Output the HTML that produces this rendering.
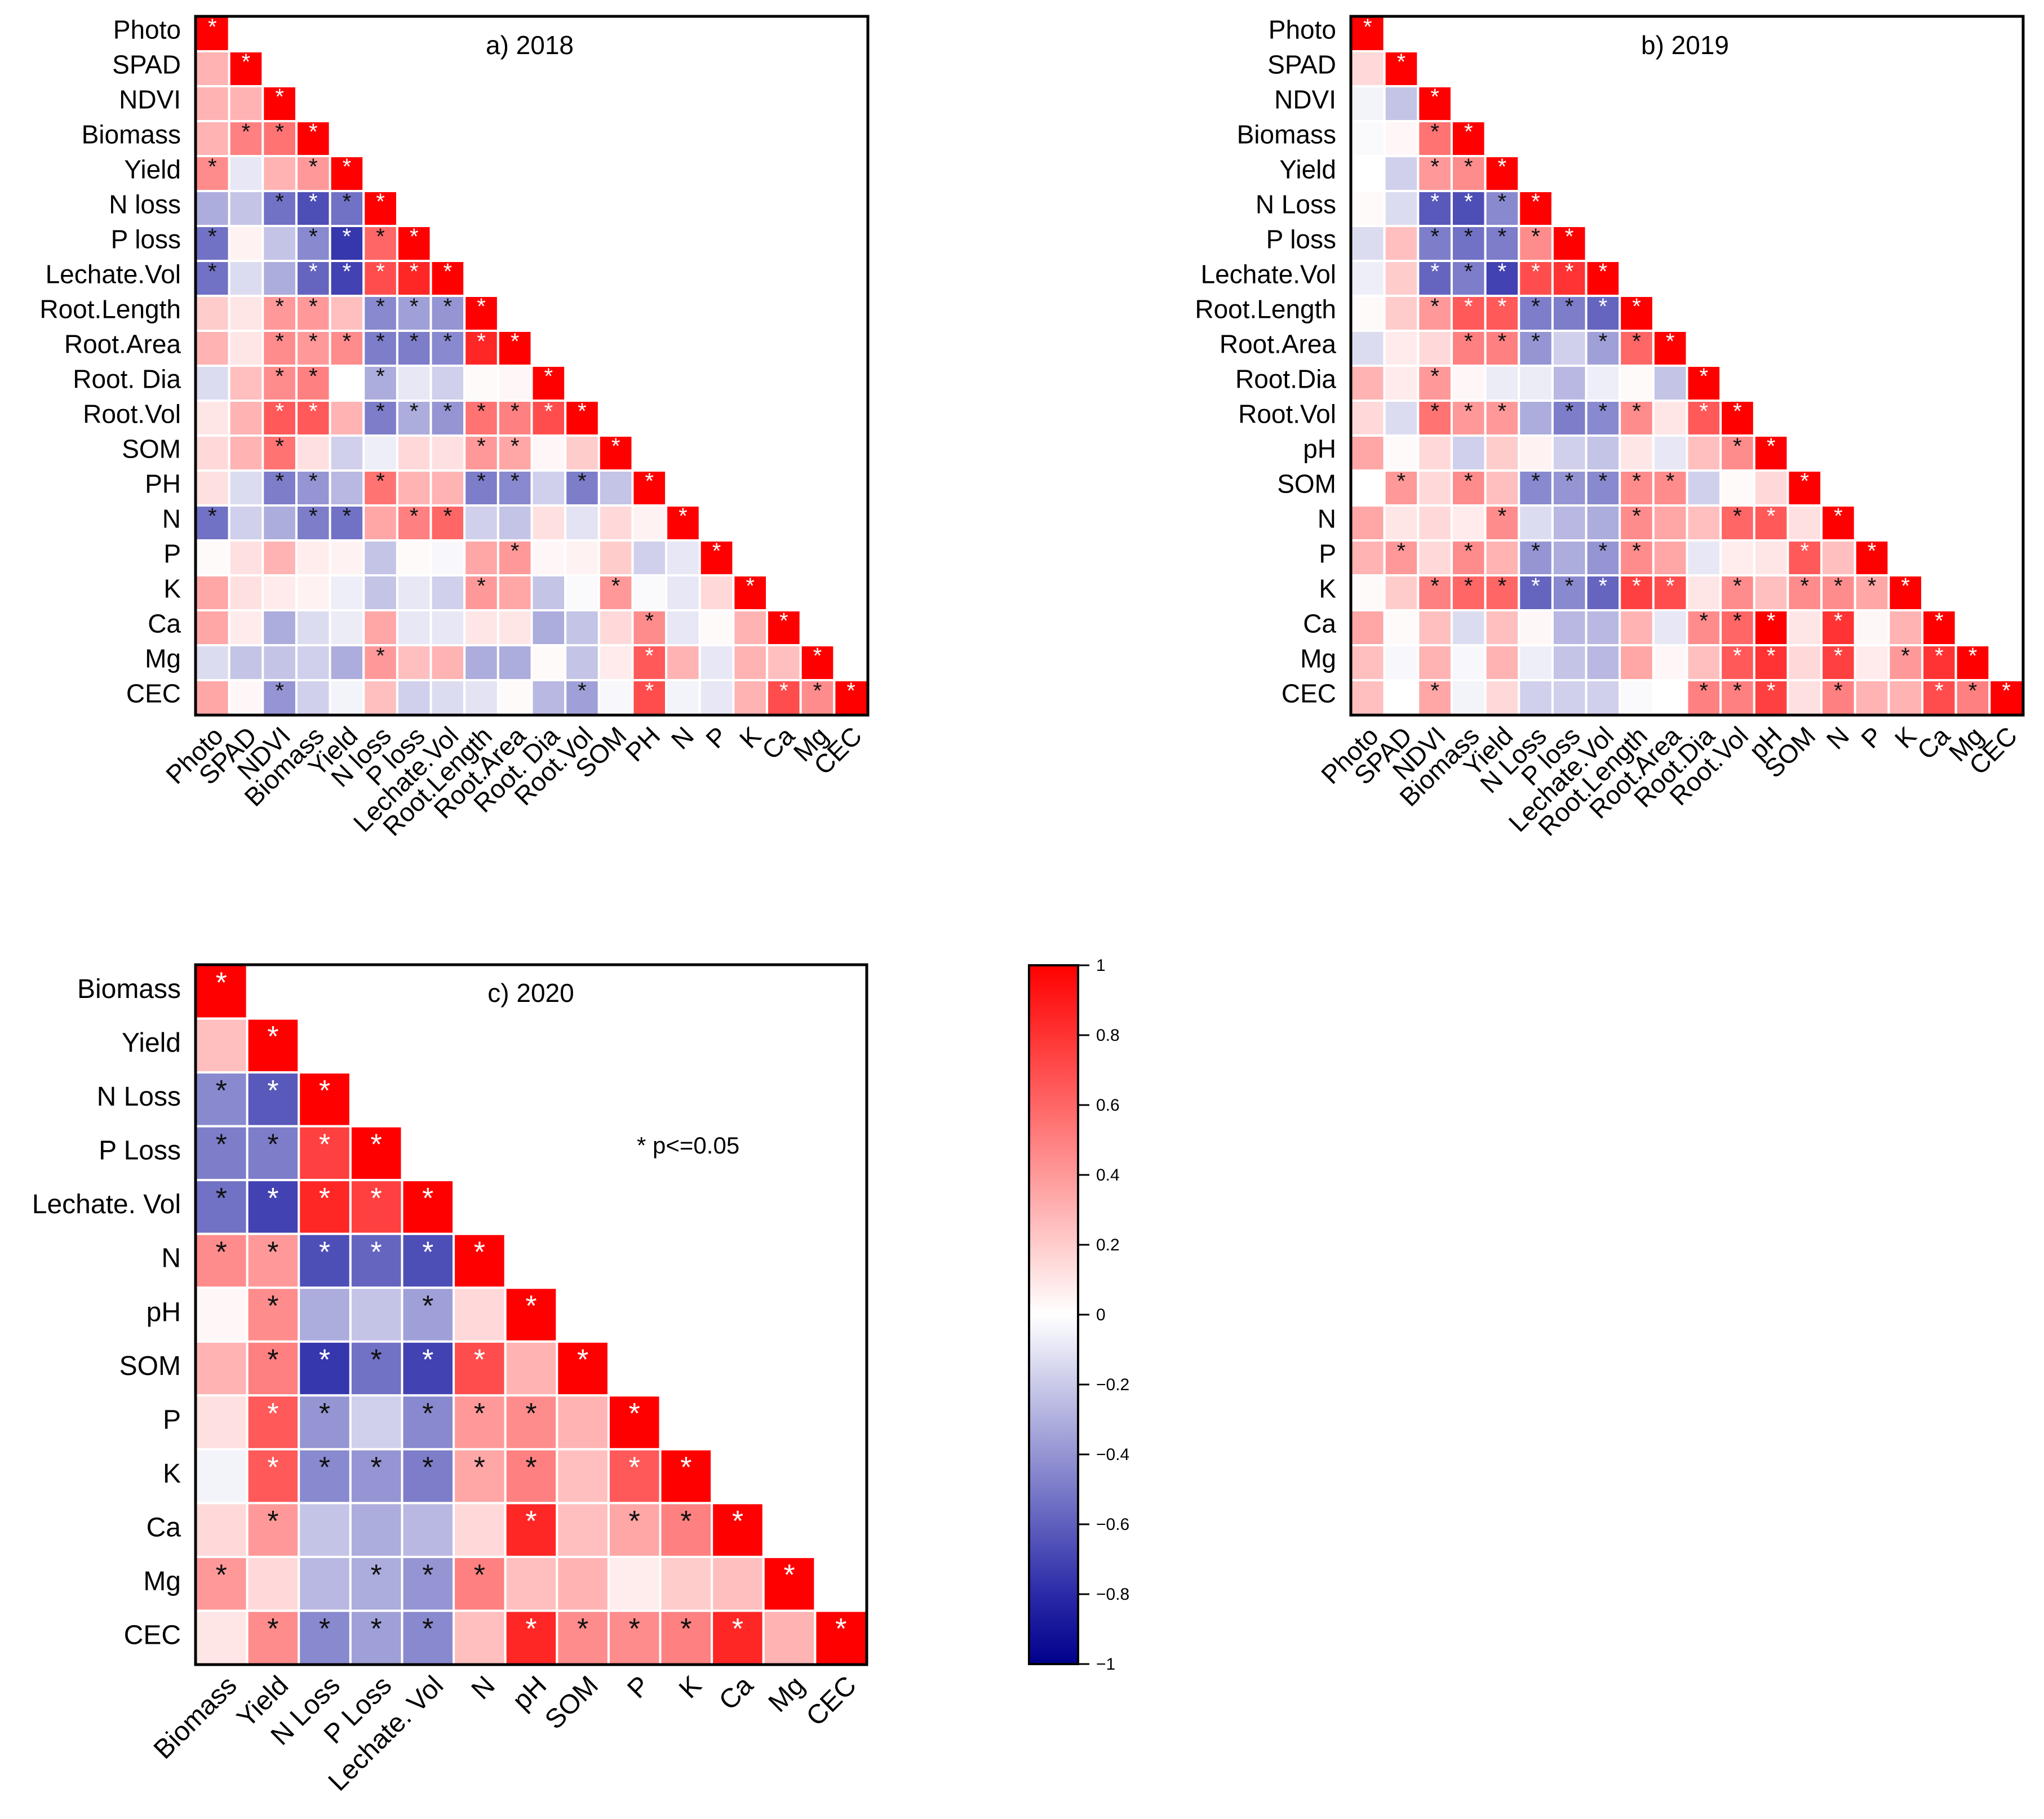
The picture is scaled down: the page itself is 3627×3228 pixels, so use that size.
<!DOCTYPE html>
<html><head><meta charset="utf-8"><style>
html,body{margin:0;padding:0;background:#fff;}
svg text{font-family:"Liberation Sans",Arial,sans-serif;}
</style></head>
<body>
<svg id="chart" width="3627" height="3223" viewBox="0 0 3627 3223" xmlns="http://www.w3.org/2000/svg">
<defs>
<linearGradient id="cbar" x1="0" y1="0" x2="0" y2="1">
<stop offset="0" stop-color="#ff0000"/>
<stop offset="0.5" stop-color="#ffffff"/>
<stop offset="0.9" stop-color="#2a2aa8"/>
<stop offset="1" stop-color="#00008c"/>
</linearGradient>
</defs>
</svg>
<script>
const labelsA = ["Photo","SPAD","NDVI","Biomass","Yield","N loss","P loss","Lechate.Vol","Root.Length","Root.Area","Root. Dia","Root.Vol","SOM","PH","N","P","K","Ca","Mg","CEC"];
const valuesA = [
[],
[0.3],
[0.3,0.3],
[0.3,0.5,0.55],
[0.45,-0.1,0.3,0.4],
[-0.35,-0.25,-0.6,-0.75,-0.6],
[-0.6,0.05,-0.25,-0.5,-0.85,0.6],
[-0.6,-0.15,-0.35,-0.65,-0.8,0.7,0.85],
[0.2,0.1,0.4,0.4,0.25,-0.5,-0.4,-0.45],
[0.3,0.1,0.45,0.4,0.45,-0.55,-0.55,-0.5,0.85],
[-0.15,0.25,0.45,0.5,0,-0.35,-0.1,-0.2,0.02,0.03],
[0.1,0.3,0.65,0.65,0.3,-0.55,-0.35,-0.45,0.55,0.5,0.7],
[0.15,0.3,0.55,0.12,-0.2,-0.07,0.15,0.12,0.4,0.35,0.03,0.2],
[0.12,-0.15,-0.55,-0.45,-0.3,0.55,0.3,0.3,-0.55,-0.5,-0.2,-0.55,-0.25],
[-0.6,-0.2,-0.35,-0.55,-0.6,0.35,0.5,0.6,-0.2,-0.25,0.12,-0.12,0.15,0.05],
[0.02,0.12,0.3,0.07,0.05,-0.25,0.02,-0.03,0.35,0.4,0.03,0.05,0.2,-0.2,-0.1],
[0.35,0.12,0.08,0.05,-0.07,-0.25,-0.1,-0.2,0.4,0.35,-0.25,-0.02,0.4,-0.02,-0.1,0.15],
[0.35,0.08,-0.35,-0.15,-0.08,0.35,-0.1,-0.1,0.1,0.1,-0.35,-0.25,0.15,0.45,-0.1,0.02,0.3],
[-0.15,-0.25,-0.25,-0.2,-0.35,0.4,0.25,0.3,-0.35,-0.35,0.02,-0.25,0.08,0.65,0.3,-0.1,0.3,0.25],
[0.35,0.03,-0.45,-0.2,-0.05,0.25,-0.2,-0.15,-0.12,0.02,-0.3,-0.4,-0.03,0.7,-0.05,-0.1,0.3,0.7,0.45]
];
const sigA = [[],[],[],[1,2],[0,3],[2,3,4],[0,3,4,5],[0,3,4,5,6],[2,3,5,6,7],[2,3,4,5,6,7,8],[2,3,5],[2,3,5,6,7,8,9,10],[2,8,9],[2,3,5,8,9,11],[0,3,4,6,7],[9],[8,12],[13],[5,13],[2,11,13,17,18]];

const labelsB = ["Photo","SPAD","NDVI","Biomass","Yield","N Loss","P loss","Lechate.Vol","Root.Length","Root.Area","Root.Dia","Root.Vol","pH","SOM","N","P","K","Ca","Mg","CEC"];
const xlabelsB = ["Photo","SPAD","NDVI","Biomass","Yield","N Loss","P loss","Lechate.Vol","Root.Length","Root.Area","Root.Dia","Root.Vol","pH","SOM","N","P","K","Ca","Mg","CEC"];
const valuesB = [
[],
[0.15],
[-0.05,-0.25],
[-0.02,0.03,0.55],
[0,-0.2,0.4,0.45],
[0.02,-0.15,-0.7,-0.75,-0.5],
[-0.15,0.25,-0.55,-0.6,-0.55,0.45],
[-0.07,0.2,-0.65,-0.55,-0.8,0.7,0.8],
[0.02,0.2,0.4,0.65,0.65,-0.55,-0.55,-0.65],
[-0.15,0.08,0.15,0.5,0.5,-0.45,-0.2,-0.4,0.6],
[0.3,0.08,0.4,0.03,-0.08,-0.08,-0.3,-0.07,0.02,-0.25],
[0.15,-0.15,0.55,0.4,0.4,-0.35,-0.55,-0.5,0.45,0.1,0.65],
[0.35,0.02,0.15,-0.2,0.2,0.05,-0.2,-0.25,0.1,-0.1,0.25,0.45],
[0,0.4,0.15,0.45,0.25,-0.5,-0.45,-0.5,0.45,0.45,-0.2,0.02,0.15],
[0.35,0.1,0.15,0.08,0.45,-0.15,-0.3,-0.35,0.45,0.35,0.25,0.6,0.65,0.12],
[0.3,0.4,0.15,0.45,0.3,-0.45,-0.35,-0.45,0.45,0.35,-0.1,0.07,0.1,0.65,0.25],
[0.02,0.2,0.5,0.6,0.6,-0.65,-0.5,-0.65,0.75,0.7,0.1,0.45,0.25,0.45,0.45,0.35],
[0.35,0.02,0.25,-0.15,0.25,0.03,-0.3,-0.3,0.3,-0.1,0.45,0.6,1.0,0.1,0.8,0.03,0.3],
[0.25,-0.03,0.3,-0.03,0.3,-0.07,-0.25,-0.3,0.35,0.03,0.25,0.65,0.8,0.15,0.75,0.08,0.4,0.8],
[0.25,0,0.35,-0.05,0.15,-0.2,-0.2,-0.2,-0.02,0,0.5,0.5,0.75,0.12,0.5,0.3,0.3,0.7,0.5]
];
const sigB = [[],[],[],[2],[2,3],[2,3,4],[2,3,4,5],[2,3,4,5,6],[2,3,4,5,6,7],[3,4,5,7,8],[2],[2,3,4,6,7,8,10],[11],[1,3,5,6,7,8,9],[4,8,11,12],[1,3,5,7,8,13],[2,3,4,5,6,7,8,9,11,13,14,15],[10,11,12,14],[11,12,14,16,17],[2,10,11,12,14,17,18]];

const labelsC = ["Biomass","Yield","N Loss","P Loss","Lechate. Vol","N","pH","SOM","P","K","Ca","Mg","CEC"];
const xlabelsC = ["Biomass","Yield","N Loss","P Loss","Lechate. Vol","N","pH","SOM","P","K","Ca","Mg","CEC"];
const valuesC = [
[],
[0.25],
[-0.5,-0.7],
[-0.55,-0.55,0.75],
[-0.6,-0.8,0.85,0.75],
[0.45,0.4,-0.75,-0.65,-0.75],
[0.03,0.45,-0.35,-0.25,-0.4,0.15],
[0.3,0.5,-0.85,-0.6,-0.8,0.7,0.3],
[0.12,0.65,-0.45,-0.2,-0.5,0.4,0.45,0.3],
[-0.05,0.65,-0.5,-0.45,-0.55,0.35,0.5,0.25,0.65],
[0.15,0.4,-0.25,-0.35,-0.3,0.15,0.85,0.25,0.35,0.5],
[0.4,0.15,-0.3,-0.35,-0.45,0.5,0.25,0.3,0.07,0.2,0.25],
[0.1,0.45,-0.5,-0.4,-0.5,0.25,0.85,0.45,0.45,0.5,0.85,0.3]
];
const sigC = [[],[],[0,1],[0,1,2],[0,1,2,3],[0,1,2,3,4],[1,4],[1,2,3,4,5],[1,2,4,5,6],[1,2,3,4,5,6,8],[1,6,8,9],[0,3,4,5],[1,2,3,4,6,7,8,9,10]];

const cbarTicks = [1,0.8,0.6,0.4,0.2,0,-0.2,-0.4,-0.6,-0.8,-1];

const NS = "http://www.w3.org/2000/svg";
const svg = document.getElementById("chart");
function mk(tag, attrs, parent){
  const e = document.createElementNS(NS, tag);
  for (const k in attrs) e.setAttribute(k, attrs[k]);
  (parent||svg).appendChild(e);
  return e;
}
function color(v){
  v = Math.max(-1, Math.min(1, v));
  if (v >= 0) { const t = Math.round(255*(1-v)); return `rgb(255,${t},${t})`; }
  const a = -v;
  let r, g, b;
  if (a <= 0.9) { const s = a/0.9; r = 255 + (42-255)*s; g = r; b = 255 + (168-255)*s; }
  else { const s = (a-0.9)/0.1; r = 42*(1-s); g = r; b = 168 + (140-168)*s; }
  return `rgb(${Math.round(r)},${Math.round(g)},${Math.round(b)})`;
}
function panel(key, labels, xlabels, vals, sig, box, title, titleX, titleY, fs, starFs, xlabOff, labShift){
  const n = labels.length;
  const cw = (box.x1 - box.x0)/n, ch = (box.y1 - box.y0)/n;
  const xs = j => box.x0 + j*cw;
  const ys = i => box.y0 + i*ch;
  const g = mk("g", {});
  
  
  for (let i = 0; i < n; i++) {
    for (let j = 0; j <= i; j++) {
      const v = (j === i) ? 1 : vals[i][j];
      const r = mk("rect", {x: xs(j), y: ys(i), width: cw, height: ch, fill: color(v), stroke: "#fff", "stroke-width": 4}, g);
      
      
      const starred = (j === i) || sig[i].indexOf(j) >= 0;
      if (starred) {
        const st = mk("text", {x: xs(j) + cw/2, y: ys(i) + ch*0.52, "text-anchor": "middle", "font-size": starFs, fill: Math.abs(v) >= 0.62 ? "#fff" : "#111"}, g);
        st.textContent = "*";
        
        
      }
    }
    const lt = mk("text", {x: box.x0 - 26, y: ys(i) + ch/2 + fs*0.36 - labShift, "text-anchor": "end", "font-size": fs, fill: "#000"});
    lt.textContent = labels[i];
    
    
    const cx = xs(i) + cw/2 + xlabOff, cy = box.y1 + 40;
    const xt = mk("text", {x: cx, y: cy, "text-anchor": "end", "font-size": fs, fill: "#000", transform: `rotate(-45 ${cx} ${cy})`});
    xt.textContent = xlabels[i];
    
    
  }
  const fr = mk("rect", {x: box.x0, y: box.y0, width: box.x1 - box.x0, height: box.y1 - box.y0, fill: "none", stroke: "#000", "stroke-width": 5});
  
  
  const tt = mk("text", {x: titleX, y: titleY, "text-anchor": "middle", "font-size": 46, fill: "#000"});
  tt.textContent = title;
  
  
}
panel("panel-a", labelsA, labelsA, valuesA, sigA, {x0:347, x1:1540, y0:29, y1:1269}, "a) 2018", 940, 96, 46, 40, 22, 8);
panel("panel-b", labelsB, xlabelsB, valuesB, sigB, {x0:2397, x1:3590, y0:29, y1:1269}, "b) 2019", 2990, 96, 46, 40, 22, 8);
panel("panel-c", labelsC, xlabelsC, valuesC, sigC, {x0:347, x1:1538, y0:1712, y1:2954}, "c) 2020", 942, 1778, 48, 52, 30, 6);

const pn = mk("text", {x: 1130, y: 2047, "font-size": 42, fill: "#000"});
pn.textContent = "* p<=0.05";



const cb = {x0:1826, x1:1913, y0:1713, y1:2953};
const cbr = mk("rect", {x: cb.x0, y: cb.y0, width: cb.x1 - cb.x0, height: cb.y1 - cb.y0, fill: "url(#cbar)", stroke: "#000", "stroke-width": 4});


const cy = v => cb.y0 + (1 - v)/2*(cb.y1 - cb.y0);
cbarTicks.forEach(v => {
  const tk = mk("line", {x1: cb.x1, x2: cb.x1 + 20, y1: cy(v), y2: cy(v), stroke: "#000", "stroke-width": 3});
  
  
  const tl = mk("text", {x: cb.x1 + 32, y: cy(v) + 10, "font-size": 30, fill: "#000"});
  tl.textContent = v === 0 ? "0" : (v < 0 ? "\u2212" + Math.abs(v) : String(v));
  
  
});
</script>
</body></html>
